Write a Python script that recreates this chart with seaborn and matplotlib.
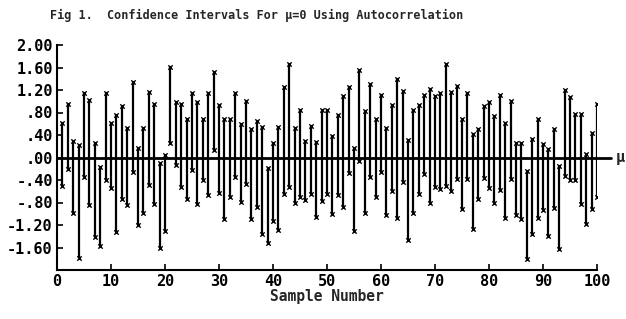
import numpy as np
import pandas as pd
import matplotlib
matplotlib.use("Agg")
import matplotlib.pyplot as plt
import matplotlib.transforms as mtransforms
import seaborn as sns

# interval bounds, samples 1..100
sample = np.arange(1, 101)
upper = [0.62, 0.95, 0.30, 0.22, 1.14, 1.03, 0.25, -0.17, 1.14, 0.62,
         0.75, 0.92, 0.52, 1.34, 0.17, 0.52, 1.17, 0.96, -0.10, 0.05,
         1.61, 0.99, 0.96, 0.68, 1.14, 0.98, 0.68, 1.15, 1.52, 0.94,
         0.69, 0.69, 1.14, 0.60, 1.01, 0.51, 0.65, 0.54, -0.19, 0.26,
         0.54, 1.25, 1.67, 0.53, 0.85, 0.30, 0.56, 0.27, 0.85, 0.84,
         0.39, 0.75, 1.10, 1.26, 0.17, 1.55, 0.82, 1.30, 0.69, 1.11,
         0.53, 0.93, 1.39, 1.18, 0.31, 0.85, 0.93, 1.11, 1.21, 1.09,
         1.14, 1.67, 1.17, 1.28, 0.68, 1.15, 0.41, 0.51, 0.91, 0.99,
         0.74, 1.11, 0.61, 1.01, 0.25, 0.25, -0.24, 0.33, 0.69, 0.24,
         0.16, 0.51, -0.15, 1.20, 1.08, 0.77, 0.77, 0.06, 0.44, 0.96]
lower = [-0.50, -0.20, -0.98, -1.78, -0.34, -0.85, -1.41, -1.57, -0.40, -0.55,
         -1.33, -0.73, -0.85, -0.25, -1.20, -0.99, -0.49, -0.82, -1.60, -1.30,
         0.25, -0.14, -0.52, -0.73, -0.22, -0.83, -0.40, -0.67, 0.14, -0.63,
         -1.09, -0.70, -0.35, -0.79, -0.47, -1.09, -0.88, -1.36, -1.52, -1.12,
         -1.28, -0.64, -0.52, -0.80, -0.71, -0.75, -0.64, -1.06, -0.78, -0.64,
         -1.01, -0.67, -0.88, -0.28, -1.31, -0.07, -0.98, -0.35, -0.70, -0.25,
         -1.02, -0.60, -1.07, -0.43, -1.46, -0.99, -0.65, -0.30, -0.80, -0.53,
         -0.56, -0.50, -0.59, -0.38, -0.91, -0.38, -1.27, -0.73, -0.36, -0.54,
         -0.80, -0.57, -1.08, -0.38, -1.02, -1.09, -1.80, -1.36, -1.07, -0.93,
         -1.40, -0.89, -1.63, -0.33, -0.40, -0.40, -0.83, -1.18, -0.92, -0.71]

y_ticks = [2.0, 1.6, 1.2, 0.8, 0.4, 0.0, -0.4, -0.8, -1.2, -1.6]
y_labels = ["2.00", "1.60", "1.20", ".80", ".40", ".00", "-.40", "-.80", "-1.20", "-1.60"]
x_ticks = [0, 10, 20, 30, 40, 50, 60, 70, 80, 90, 100]
mu = 0.0

df = pd.concat([
    pd.DataFrame({"sample": sample, "value": upper}),
    pd.DataFrame({"sample": sample, "value": lower}),
], ignore_index=True)

sns.set_theme(style="ticks")
plt.rcParams["font.family"] = ["DejaVu Sans Mono", "DejaVu Sans"]
plt.rcParams["font.weight"] = "bold"

fig = plt.figure(figsize=(6.26, 3.19), dpi=100)
ax = fig.add_axes([57 / 626, 49 / 319, 540 / 626, 225 / 319])

# vertical interval segments (one 2-point line per column) + end markers
seg_x = np.vstack([sample, sample]).astype(float)
seg_y = np.vstack([np.asarray(lower, float), np.asarray(upper, float)])
ax.plot(seg_x, seg_y, color="black", lw=1.6, solid_capstyle="butt", zorder=2)
sns.scatterplot(data=df, x="sample", y="value", marker="x", s=10,
                color="black", linewidth=1.0, legend=False, ax=ax, zorder=3)

ax.axhline(mu, xmin=0, xmax=1.025, color="black", lw=2.0, clip_on=False)
trans = mtransforms.blended_transform_factory(ax.transAxes, ax.transData)
ax.text(1.035, mu, "\u03bc", transform=trans, fontsize=11, fontweight="bold",
        va="center", ha="left")

ax.set_xlim(0, 100)
ax.set_ylim(-2.0, 2.0)
ax.set_yticks(y_ticks)
ax.set_yticklabels(y_labels)
ax.set_xticks(x_ticks)
ax.set_xticklabels([str(t) for t in x_ticks])
ax.tick_params(axis="both", direction="in", length=4, width=1.2, pad=3,
               labelsize=11, colors="black")
for lab in ax.get_xticklabels() + ax.get_yticklabels():
    lab.set_fontweight("bold")

sns.despine(ax=ax)
for side in ["left", "bottom"]:
    ax.spines[side].set_linewidth(1.5)
    ax.spines[side].set_color("black")

ax.set_xlabel("Sample Number", fontsize=10.5, fontweight="bold", labelpad=0)
ax.set_ylabel("")

fig.text(257 / 626, 1 - 15 / 319,
         "Fig 1.  Confidence Intervals For \u03bc=0 Using Autocorrelation",
         ha="center", va="center", fontsize=8.5, fontweight="bold")

fig.savefig("out.png", dpi=100, facecolor="white")
